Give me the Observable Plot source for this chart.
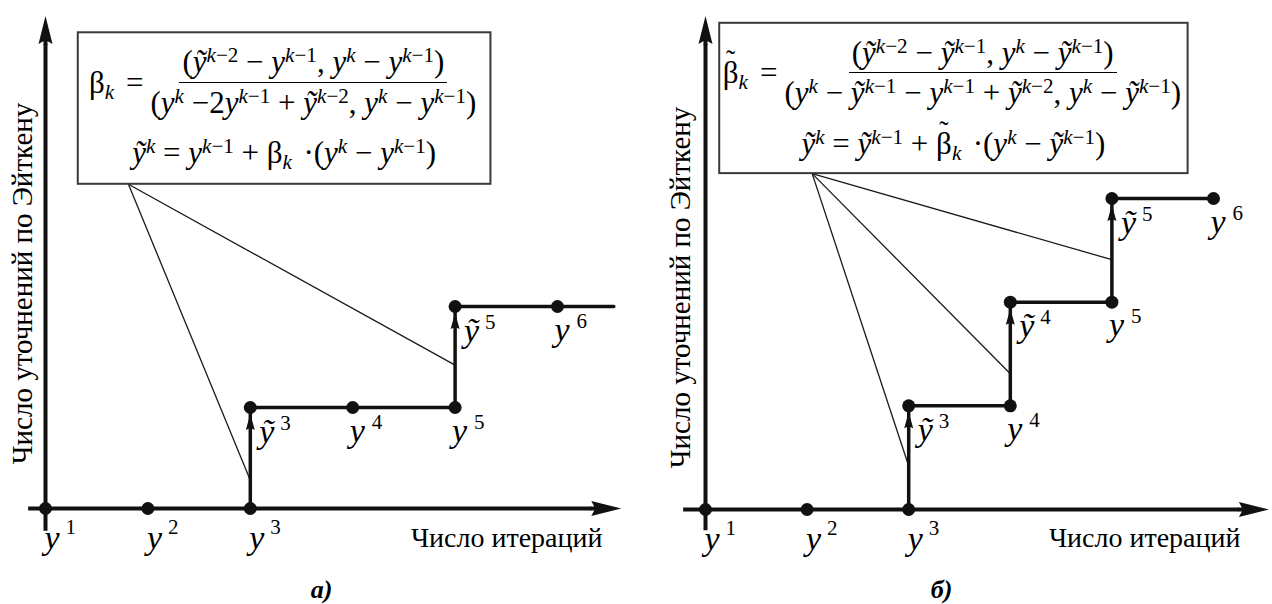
<!DOCTYPE html>
<html><head><meta charset="utf-8">
<script src="https://cdn.jsdelivr.net/npm/d3@7"></script>
<script src="https://cdn.jsdelivr.net/npm/@observablehq/plot@0.6"></script>
<style>
body{margin:0;background:#fff;}
#wrap{position:relative;width:1272px;height:604px;overflow:hidden;font-family:"Liberation Serif","Times New Roman",serif;}
.panel{position:absolute;top:0;width:636px;height:604px;}
.panel svg{position:absolute;left:0;top:0;}
.formula{position:absolute;font-size:31px;color:#000;white-space:nowrap;font-family:"Liberation Serif","Times New Roman",serif;}
.row1{position:absolute;left:0;right:0;display:flex;justify-content:center;align-items:center;}
.row2{position:absolute;left:0;right:0;text-align:center;line-height:1.05;}
.lhs{line-height:1.05;}
.eq{margin:0 4px 0 12px;}
.frac{display:inline-flex;flex-direction:column;align-items:center;}
.num{line-height:1.05;padding:0 3px 3px;border-bottom:1.6px solid #000;}
.den{line-height:1.05;padding:4px 3px 0;}
.formula sup{font-size:0.68em;vertical-align:0.48em;line-height:0;}
.formula sub{font-size:0.68em;vertical-align:-0.3em;line-height:0;}
.bt{position:relative;display:inline-block;}
.bt::after{content:"˜";position:absolute;left:0;right:0;top:-0.42em;text-align:center;font-size:0.9em;}
.sp{margin-left:0.12em;}
</style></head><body><div id="wrap"></div>
<script>
// ---------- Panel а: Aitken refinement from plain iterates ----------
const iterA  = [1, 2, 3, 3, 4, 5, 5, 6];
const levelA = [0, 0, 0, 1, 1, 1, 2, 2];
const glyphA = ["y", "y", "y", "ỹ", "y", "y", "ỹ", "y"];
const supA   = ["1", "2", "3", "3", "4", "5", "5", "6"];
const pathXA = [3, 3, 5, 5, 6.55];
const pathYA = [0, 1, 1, 2, 2];
const riseXA = [3, 5];
const riseToA = [1, 2];
const calloutXA = [3, 5];
const calloutYA = [0.28, 1.42];
const calloutOriginXA = 1.81;
const boxA = [1.32, 5.35, 3.21, 4.71];   // x1, x2, y1, y2
const xAxisA = [0.83, 6.33];
const yAxisA = [-0.22, 4.6];

// ---------- Panel б: Aitken refinement from refined iterates ----------
const iterB  = [1, 2, 3, 3, 4, 4, 5, 5, 6];
const levelB = [0, 0, 0, 1, 1, 2, 2, 3, 3];
const glyphB = ["y", "y", "y", "ỹ", "y", "ỹ", "y", "ỹ", "y"];
const supB   = ["1", "2", "3", "3", "4", "4", "5", "5", "6"];
const pathXB = [3, 3, 4, 4, 5, 5, 6];
const pathYB = [0, 1, 1, 2, 2, 3, 3];
const riseXB = [3, 4, 5];
const riseToB = [1, 2, 3];
const calloutXB = [3, 4, 5];
const calloutYB = [0.42, 1.31, 2.41];
const calloutOriginXB = 2.05;
const boxB = [1.14, 5.75, 3.24, 4.69];
const xAxisB = [0.78, 6.25];
const yAxisB = [-0.2, 4.49];

const xTitle = "Число итераций";
const yTitle = "Число уточнений по Эйткену";

// ---------- formulas ----------
const Y  = s => `<i>y</i><sup>${s}</sup>`;
const YT = s => `<i>ỹ</i><sup>${s}</sup>`;
const K = `<i>k</i>`, K1 = `<i>k</i>−1`, K2 = `<i>k</i>−2`;
const M = " − ", P = " + ";
const betaA = `β<sub><i>k</i></sub>`;
const betaB = `<span class="bt">β</span><sub><i>k</i></sub>`;
const formulaA = {
  row1: `<span class="lhs">${betaA}<span class="eq">=</span></span><span class="frac"><span class="num">(${YT(K2)}${M}${Y(K1)}, ${Y(K)}${M}${Y(K1)})</span><span class="den">(${Y(K)} −2${Y(K1)}${P}${YT(K2)}, ${Y(K)}${M}${Y(K1)})</span></span>`,
  row2: `${YT(K)} = ${Y(K1)}${P}${betaA}<span class="sp"> </span>·(${Y(K)}${M}${Y(K1)})`
};
const formulaB = {
  row1: `<span class="lhs">${betaB}<span class="eq">=</span></span><span class="frac"><span class="num">(${YT(K2)}${M}${YT(K1)}, ${Y(K)}${M}${YT(K1)})</span><span class="den">(${Y(K)}${M}${YT(K1)}${M}${Y(K1)}${P}${YT(K2)}, ${Y(K)}${M}${YT(K1)})</span></span>`,
  row2: `${YT(K)} = ${YT(K1)}${P}${betaB}<span class="sp"> </span>·(${Y(K)}${M}${YT(K1)})`
};

const SERIF = "'Liberation Serif','Times New Roman',serif";
const INK = "#111";

// arrowhead symbols
function headSymbol(L, W, n, dir, stem) {
  return {draw(c) {
    if (dir === "up") {
      c.moveTo(0, -L); c.lineTo(W, 0); c.lineTo(0, -n); c.lineTo(-W, 0); c.closePath();
      if (stem) { c.moveTo(-stem, -n - 1); c.lineTo(stem, -n - 1); c.lineTo(stem, 1); c.lineTo(-stem, 1); c.closePath(); }
    } else {
      c.moveTo(L, 0); c.lineTo(0, W); c.lineTo(n, 0); c.lineTo(0, -W); c.closePath();
      if (stem) { c.moveTo(n + 1, -stem); c.lineTo(n + 1, stem); c.lineTo(-1, stem); c.lineTo(-1, -stem); c.closePath(); }
    }
  }};
}
const bigUp = headSymbol(28, 7, 4, "up", 2);
const bigRight = headSymbol(30, 7.5, 4, "right", 2);
const smallUp = {draw(c) { c.moveTo(0, 0); c.lineTo(4.5, 16); c.lineTo(0, 14); c.lineTo(-4.5, 16); c.closePath(); }};

function makePanel(cfg) {
  const pts = cfg.iter.map((x, i) => ({x, y: cfg.level[i], g: cfg.glyph[i], s: cfg.sup[i]}));
  const path = cfg.pathX.map((x, i) => ({x, y: cfg.pathY[i]}));
  const rises = cfg.riseX.map((x, i) => ({x, y: cfg.riseTo[i]}));
  const box = {x1: cfg.box[0], x2: cfg.box[1], y1: cfg.box[2], y2: cfg.box[3]};
  const callouts = cfg.calloutX.map((x, i) => ({x1: cfg.originX, y1: cfg.box[2], x2: x, y2: cfg.calloutY[i]}));
  const axes = [
    {x1: cfg.xAxis[0], y1: 0, x2: cfg.xAxis[1], y2: 0},
    {x1: 1, y1: cfg.yAxis[0], x2: 1, y2: cfg.yAxis[1]}
  ];
  const onAxis = pts.filter(d => d.y === 0);
  const below = pts.filter(d => d.y > 0 && d.g === "y");
  const right = pts.filter(d => d.g === "ỹ");
  const base = {x: "x", y: "y", text: "g", fontFamily: SERIF, fontStyle: "italic", fontSize: 34, textAnchor: "start", lineAnchor: "bottom", fill: "#000"};
  const sup = {x: "x", y: "y", text: "s", fontFamily: SERIF, fontSize: 21, textAnchor: "start", lineAnchor: "bottom", fill: "#000"};
  const L = cfg.layout;

  const plot = Plot.plot({
    width: 636, height: 604, margin: 0,
    style: {fontFamily: SERIF, background: "transparent"},
    x: {domain: L.xDomain, range: L.xRange, axis: null},
    y: {domain: L.yDomain, range: L.yRange, axis: null},
    marks: [
      Plot.link(callouts, {x1: "x1", y1: "y1", x2: "x2", y2: "y2", stroke: "#1a1a1a", strokeWidth: 1.3}),
      Plot.rect([box], {x1: "x1", x2: "x2", y1: "y1", y2: "y2", fill: "white", stroke: "#3a3a3a", strokeWidth: 2}),
      Plot.link(axes, {x1: "x1", y1: "y1", x2: "x2", y2: "y2", stroke: INK, strokeWidth: 4}),
      Plot.dot([axes[0]], {x: "x2", y: "y2", symbol: bigRight, r: 10, fill: INK, stroke: "none"}),
      Plot.dot([axes[1]], {x: "x2", y: "y2", symbol: bigUp, r: 10, fill: INK, stroke: "none"}),
      Plot.line(path, {x: "x", y: "y", stroke: INK, strokeWidth: 3.5, strokeLinejoin: "miter"}),
      Plot.dot(rises, {x: "x", y: "y", symbol: smallUp, r: 6, fill: INK, stroke: "none", dy: 6.5}),
      Plot.dot(pts, {x: "x", y: "y", r: 6.5, fill: INK, stroke: "none"}),
      Plot.text(onAxis, {...base, dx: -1, dy: 40}),
      Plot.text(onAxis, {...sup, dx: 20, dy: 25}),
      Plot.text(below, {...base, dx: -3, dy: 34}),
      Plot.text(below, {...sup, dx: 19, dy: 21}),
      Plot.text(right, {...base, dx: 9, dy: 35}),
      Plot.text(right, {...sup, dx: 30, dy: 22}),
      Plot.text([yTitle], {text: d => d, frameAnchor: "top-left", dx: L.yTitleX, dy: L.yTitleY, rotate: -90, textAnchor: "middle", lineAnchor: "middle", fontFamily: SERIF, fontSize: 29, fill: "#000"}),
      Plot.text([xTitle], {text: d => d, frameAnchor: "top-left", dx: L.xTitleEnd, dy: L.xTitleBase, textAnchor: "end", lineAnchor: "bottom", fontFamily: SERIF, fontSize: 28, fill: "#000"}),
      Plot.text([cfg.caption], {text: d => d, frameAnchor: "top-left", dx: L.captionX, dy: L.captionBase, textAnchor: "middle", lineAnchor: "bottom", fontFamily: SERIF, fontSize: 26, fontWeight: "bold", fontStyle: "italic", fill: "#000"})
    ]
  });

  const div = document.createElement("div");
  div.className = "panel";
  div.style.left = L.left + "px";
  div.appendChild(plot);

  const sx = plot.scale("x"), sy = plot.scale("y");
  const bx1 = sx.apply(box.x1), bx2 = sx.apply(box.x2), by1 = sy.apply(box.y2), by2 = sy.apply(box.y1);
  const f = document.createElement("div");
  f.className = "formula";
  f.style.left = bx1 + "px"; f.style.top = by1 + "px";
  f.style.width = (bx2 - bx1) + "px"; f.style.height = (by2 - by1) + "px";
  f.innerHTML = `<div class="row1" style="top:14px">${cfg.formula.row1}</div><div class="row2" style="top:105px">${cfg.formula.row2}</div>`;
  div.appendChild(f);
  return div;
}

const wrap = document.getElementById("wrap");
wrap.appendChild(makePanel({
  iter: iterA, level: levelA, glyph: glyphA, sup: supA,
  pathX: pathXA, pathY: pathYA, riseX: riseXA, riseTo: riseToA,
  calloutX: calloutXA, calloutY: calloutYA, originX: calloutOriginXA,
  box: boxA, xAxis: xAxisA, yAxis: yAxisA, formula: formulaA, caption: "а)",
  layout: {left: 0, xDomain: [1, 6], xRange: [45, 557], yDomain: [0, 2], yRange: [508, 306],
           yTitleX: 22, yTitleY: 283, xTitleEnd: 602, xTitleBase: 546, captionX: 321, captionBase: 597}
}));
wrap.appendChild(makePanel({
  iter: iterB, level: levelB, glyph: glyphB, sup: supB,
  pathX: pathXB, pathY: pathYB, riseX: riseXB, riseTo: riseToB,
  calloutX: calloutXB, calloutY: calloutYB, originX: calloutOriginXB,
  box: boxB, xAxis: xAxisB, yAxis: yAxisB, formula: formulaB, caption: "б)",
  layout: {left: 636, xDomain: [1, 6], xRange: [69, 577], yDomain: [0, 3], yRange: [509, 198],
           yTitleX: 44, yTitleY: 287, xTitleEnd: 604, xTitleBase: 546, captionX: 305, captionBase: 597}
}));
</script>
</body></html>
